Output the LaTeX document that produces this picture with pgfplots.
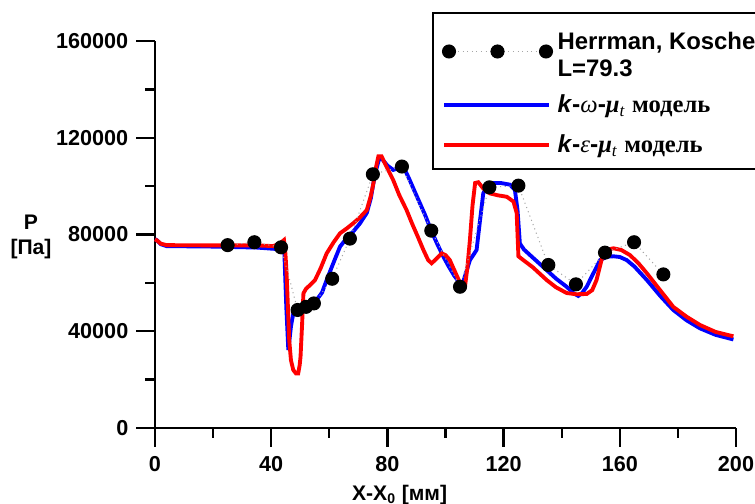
\documentclass[border=0pt]{standalone}
\usepackage{pgfplots}
\pgfplotsset{compat=1.18}
\usepackage{fontspec}
\setmainfont{Liberation Sans}
\newfontfamily\serif{Liberation Serif}
\definecolor{pblue}{RGB}{0,0,255}
\definecolor{pred}{RGB}{255,0,0}
\pgfplotsset{
  linelegend/.style={legend image code/.code={\draw[##1] (0cm,0cm) -- (2.1cm,0cm);}},
  dotlegend/.style={legend image code/.code={\draw[##1] plot coordinates {(0.1cm,0cm) (1.07cm,0cm) (2.04cm,0cm)};}},
}
\begin{document}
\begin{tikzpicture}
\useasboundingbox (-3.1cm,-1.52cm) rectangle (12.0cm,8.56cm);
\begin{axis}[
  scale only axis, width=11.62cm, height=7.74cm,
  xmin=0, xmax=200, ymin=0, ymax=160000,
  axis lines*=left,
  axis line style={line width=1.3pt},
  every tick/.style={black, line width=1.3pt},
  tick align=outside,
  major tick length=0.37cm, minor tick length=0.19cm,
  xtick={0,40,...,200}, minor x tick num=1,
  ytick={0,40000,80000,120000,160000}, minor y tick num=1,
  scaled y ticks=false,
  /pgf/number format/.cd, fixed, set thousands separator={}, assume math mode=true,
  /pgfplots/.cd,
  tick label style={font=\bfseries\fontsize{12.3}{14}\selectfont},
  yticklabel style={xshift=-0.04cm},
  xticklabel style={yshift=-0.08cm},
  every axis x label/.style={at={(axis description cs:0.421,-0.173)}, anchor=center, font=\bfseries\fontsize{12}{14}\selectfont},
  every axis y label/.style={at={(axis description cs:-0.2134,0.4935)}, anchor=center, align=center, font=\bfseries\fontsize{12}{14}\selectfont},
  xlabel={X-X\textsubscript{0} [мм]},
  ylabel={P\\{[Па]}},
  clip=false,
  legend cell align=left,
  legend style={at={(0.4768,1.075)}, anchor=north west, draw=black, line width=1.2pt,
    inner xsep=0.18cm, inner ysep=0.18cm, row sep=0.18cm,
    font=\fontsize{13.6}{14.2}\selectfont,
    nodes={inner sep=0.1cm}},
]
\addlegendimage{gray!70, dotted, line width=0.6pt, mark=*, mark size=0.13cm,
  mark options={solid, black, fill=black}, dotlegend}
\addlegendentry[inner ysep=0.2cm]{\raisebox{0.08cm}{\begin{tabular}{@{}l@{}}\bfseries Herrman, Koschel\\[0.04cm]\bfseries L=79.3\end{tabular}}}

\addplot[pblue, line width=2.2pt, linelegend] coordinates {
(0,78000) (0.6,77700) (2,76000) (4,75200) (20,75000) (35,74600) (43,73900) (44.5,73500)
(45.2,50000) (45.9,32200) (46.8,42000) (47.6,47400) (49.3,50100) (52,51200) (55.6,52900)
(57.5,56000) (59.1,61200) (61.5,68500) (63.7,75000) (66,78500) (68.3,81300) (70.5,84500)
(72.9,88900) (74.3,95000) (75.2,101300) (76.2,107000) (77.2,111500) (78.3,111000) (80,108500)
(82,106700) (84,107500) (85.5,108100) (87.5,103000) (89.5,97500) (91.2,92900) (93,88000)
(95.1,81600) (97,76500) (99.2,71000) (101,67000) (103,63000) (105,59800) (105.5,58400)
(106.5,62000) (108.4,69400) (110.7,73600) (111.8,85000) (113,97000) (114.5,100300)
(116.5,101300) (119,101300) (122.2,100600) (123.9,98400) (124.8,90000) (125.6,76300)
(127,73800) (130,70500) (134.8,65300) (138,61800) (141.7,58400) (144,55800) (145.7,54600)
(147,55800) (148.6,58400) (150.5,63000) (153.2,69400) (155.5,70800) (157.8,71000)
(160,70700) (162.4,69400) (165,66800) (169.3,61200) (174,54500) (178.4,48800) (183,44500)
(187.6,41200) (193,38500) (199.1,36600)
};
\addlegendentry{\fontsize{14}{15}\selectfont\textbf{\textit{k}}\textbf{-}{\serif\itshape ω}\textbf{-}{\serif\bfseries\itshape μ}\textsubscript{\serif\itshape t} {\serif\bfseries модель}}

\addplot[pred, line width=2.2pt, linelegend] coordinates {
(0,78000) (0.6,77600) (2,76200) (4,75600) (20,75500) (35,75500) (40.7,75200) (43,76300)
(44.4,77700) (44.9,72000) (45.3,63900) (46.2,36400) (46.8,28000) (47.6,24000) (48.5,22600)
(49.3,22600) (49.8,26000) (50.1,29500) (50.6,42000) (51.1,55700) (52,57600) (53.4,59100)
(55.1,61200) (57,66000) (59.1,72200) (61.5,76800) (63.7,80500) (66,82500) (68.3,84700)
(70.5,87000) (72.9,90100) (74.3,96000) (75.2,101300) (76.2,108500) (76.9,112300) (78,112300)
(79.5,108500) (82,102500) (84,96500) (86.6,90100) (88.5,84500) (90.5,79000) (92.4,73600)
(94,69500) (95.2,68100) (96.5,69500) (98.7,72200) (100,71500) (101.5,69400) (103.5,64000)
(105.6,58400) (106.7,58400) (107.5,66000) (108.4,77700) (109.3,92000) (110.2,101300)
(111.3,101600) (113,99000) (115.3,97000) (118,96200) (121.1,95600) (123.4,93600)
(124.5,88900) (125.1,71000) (126.8,69400) (130,66500) (134.8,61200) (138,58200)
(141.7,55800) (145,55300) (148.6,55400) (150.5,57000) (152,61200) (153.2,67000)
(154.3,72200) (156,73800) (157.8,74300) (160.5,73600) (163.5,71500) (166.5,68000)
(169.3,64000) (174,56800) (178.4,50100) (183,46000) (187.6,42600) (193,39700) (199.1,37900)
};
\addlegendentry{\fontsize{14}{15}\selectfont\textbf{\textit{k}}\textbf{-}{\serif\itshape ε}\textbf{-}{\serif\bfseries\itshape μ}\textsubscript{\serif\itshape t} {\serif\bfseries модель}}

\addplot[gray!70, dotted, line width=0.6pt, mark=*, mark size=0.13cm,
  mark options={solid, black, fill=black}, forget plot] coordinates {
(25,75600) (34.2,76800) (43.4,74700) (49.1,48800) (52,50100) (54.7,51500) (61,61700)
(67.1,78300) (75,104900) (85,108100) (95.1,81600) (105,58400) (115.1,99500) (125.1,100200)
(135.4,67400) (144.9,59400) (154.9,72500) (164.9,76800) (175,63500)
};
\end{axis}
\end{tikzpicture}
\end{document}
